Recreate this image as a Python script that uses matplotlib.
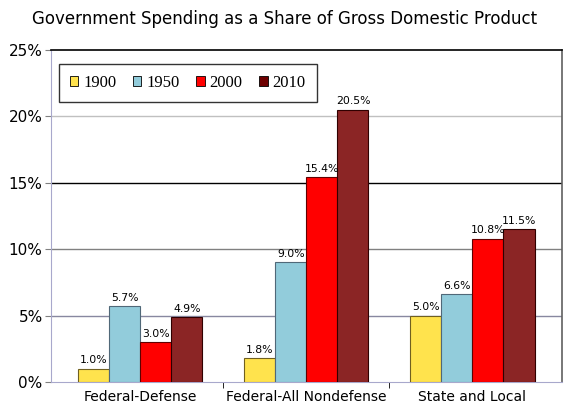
import numpy as np
import matplotlib
matplotlib.use("Agg")
import matplotlib.pyplot as plt
from matplotlib.patches import Patch

categories = ["Federal-Defense", "Federal-All Nondefense", "State and Local"]
years = ["1900", "1950", "2000", "2010"]
values = {
    "1900": [1.0, 1.8, 5.0],
    "1950": [5.7, 9.0, 6.6],
    "2000": [3.0, 15.4, 10.8],
    "2010": [4.9, 20.5, 11.5],
}
colors = ["#FFE34D", "#92CCDB", "#FF0000", "#8B2525"]
legend_colors = ["#FFE34D", "#92CCDB", "#FF0000", "#6E0000"]
edges = ["#706020", "#506878", "#600000", "#300000"]

fig = plt.figure(figsize=(5.7, 4.2), dpi=100)
ax = fig.add_axes([0.0895, 0.0905, 0.896, 0.7905])

x = np.arange(len(categories))
w = 0.187
for i, yr in enumerate(years):
    pos = x + (i - 1.5) * w
    bars = ax.bar(pos, values[yr], width=w, color=colors[i], edgecolor=edges[i],
                  linewidth=0.8, zorder=3)
    for b, v in zip(bars, values[yr]):
        ax.text(b.get_x() + b.get_width() / 2, v + 0.25, f"{v:.1f}%",
                ha="center", va="bottom", fontsize=7.8, zorder=4)

ax.set_xlim(-0.538, 2.538)
ax.set_ylim(0, 25)
ax.set_yticks([0, 5, 10, 15, 20, 25])
ax.set_yticklabels([f"{t}%" for t in [0, 5, 10, 15, 20, 25]], fontsize=11)
ax.set_xticks(x)
ax.set_xticklabels(categories, fontsize=10)
ax.tick_params(axis="x", length=0, pad=6)
ax.set_xticks([0.5, 1.5], minor=True)
ax.tick_params(axis="x", which="minor", length=4, color="black")
ax.tick_params(axis="y", length=4, color="#808080", pad=2)

# horizontal gridlines
grid_cols = {5: "#8888a0", 10: "#808080", 15: "black", 20: "#c0c0c0"}
for yv, c in grid_cols.items():
    ax.axhline(yv, color=c, linewidth=1, zorder=1)

ax.spines["top"].set_color("black")
ax.spines["top"].set_linewidth(1.2)
ax.spines["left"].set_color("#a8a8cc")
ax.spines["bottom"].set_color("#a8a8cc")
ax.spines["right"].set_color("#606060")
ax.spines["right"].set_linewidth(1.2)

handles = [Patch(facecolor=legend_colors[i], edgecolor="black", linewidth=0.6, label=yr)
           for i, yr in enumerate(years)]
leg = ax.legend(handles=handles, ncol=4, loc="upper left",
                bbox_to_anchor=(0.016, 0.958), borderaxespad=0,
                prop={"family": "Liberation Serif", "size": 12},
                handlelength=0.5, handleheight=0.5, handletextpad=0.3,
                columnspacing=1.0, frameon=True, fancybox=False,
                borderpad=0.65)
leg.get_frame().set_edgecolor("black")
leg.get_frame().set_linewidth(1.0)

fig.suptitle("Government Spending as a Share of Gross Domestic Product",
             fontsize=12, y=0.975)

fig.savefig("out.png", dpi=100)
